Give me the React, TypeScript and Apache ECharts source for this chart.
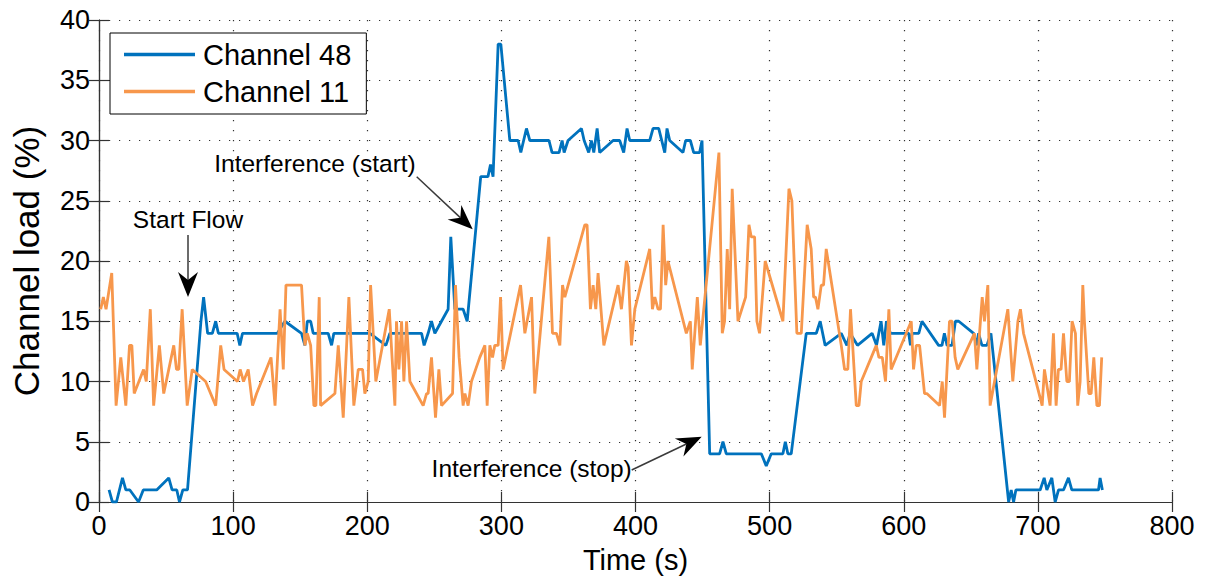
import React, { useEffect, useRef } from "react";
import * as echarts from "echarts";

const FONT = "'Liberation Sans', Arial, Helvetica, sans-serif";

// Channel 48 (blue)
const ch48Time = [7.5, 10, 13, 17.5, 20, 23, 29.5, 33, 43, 52, 54.5, 58, 60, 62.5, 66, 76, 78, 81, 84.5, 87, 89, 103, 105, 107, 133, 138.6, 151, 153.5, 155.3, 157.8, 159.7, 170.9, 173.4, 175.1, 202, 213.9, 216.9, 240.5, 242.4, 245.4, 247.9, 250.4, 260.3, 262.3, 265.3, 271.5, 274.5, 284.6, 290, 291.9, 293.8, 297.6, 299.6, 306.3, 312.5, 314.5, 318.7, 321.2, 335.5, 337.8, 343, 345.3, 346.8, 349.7, 359.7, 361.7, 365.1, 367.1, 368.9, 371.4, 373.3, 383.3, 388.2, 391.2, 393.7, 395.7, 410.6, 413.1, 417.3, 421.8, 423.5, 425.5, 435.4, 437.4, 440.9, 443.4, 447.8, 449.6, 455.3, 462.7, 465.2, 467.7, 493.8, 497.5, 501.2, 509.9, 511.7, 513.6, 516.1, 527.3, 534.8, 537.7, 541.4, 553.4, 557.6, 560, 565.5, 576.4, 579.7, 583.1, 585.1, 587.1, 590, 603.7, 605, 606.2, 611.2, 613.6, 626, 628.5, 630.3, 632.3, 636, 638.5, 641, 652.1, 654.2, 655.8, 658.3, 662, 665, 678.2, 680.1, 681.9, 683.6, 701.7, 704.7, 706.7, 710.4, 712.9, 715.4, 719.1, 722.8, 725.3, 745.2, 746.4, 748.1];
const ch48Load = [1, 0, 0, 2, 1, 1, 0, 1, 1, 2, 1, 1, 0, 1, 1, 15, 17, 14, 14, 15, 14, 14, 13, 14, 14, 15, 14, 13, 15, 15, 14, 14, 13, 14, 14, 13, 14, 14, 13, 14, 15, 14, 16, 22, 16, 16, 15, 27, 27, 28, 27, 38, 38, 30, 30, 29, 31, 30, 30, 29, 29, 30, 29, 30, 31, 30, 29, 30, 29, 31, 29, 30, 30, 29, 31, 30, 30, 31, 31, 29, 31, 30, 29, 30, 30, 29, 29, 30, 4, 4, 5, 4, 4, 3, 4, 4, 5, 4, 4, 14, 14, 15, 13, 14, 13, 14, 13, 14, 13, 15, 13, 15, 14, 14, 13, 14, 14, 15, 13, 13, 14, 13, 13, 15, 15, 14, 13, 14, 13, 13, 14, 0, 1, 0, 1, 1, 2, 1, 2, 0, 1, 1, 2, 1, 1, 2, 1];

// Channel 11 (orange)
const ch11Time = [1.25, 3.25, 5.25, 9.5, 12.75, 16.25, 20, 22.75, 24.5, 26.25, 33.25, 35.25, 38.25, 40.75, 45, 48.25, 55.75, 57.75, 59.5, 62, 65.75, 69.5, 79.5, 87, 90.75, 93.25, 103.25, 105.25, 107.75, 111.25, 114.5, 117.5, 128.25, 131.25, 135, 137.4, 139.4, 151, 153.5, 155.3, 157.8, 160.2, 161.7, 164.2, 165.2, 175.9, 178.4, 182.1, 186.3, 190, 193.3, 196.5, 198.2, 200.7, 202.5, 206.4, 216.4, 220.6, 221.8, 223.6, 225.6, 227.3, 229.3, 231.8, 241.7, 244.2, 245.4, 247.9, 250.9, 253.4, 255.4, 263.6, 265.8, 268.5, 271.5, 272.8, 275.2, 277.7, 283.9, 287.7, 289.4, 291.4, 293.4, 295.1, 297.6, 299.4, 301.3, 314.3, 317.5, 322.5, 324.9, 335.4, 338.1, 341.1, 343.6, 345.6, 347.3, 362.2, 363.9, 366.4, 368.4, 370.4, 372.1, 376.4, 387, 389.5, 393.2, 394.5, 397, 399.5, 410.6, 412.6, 414.4, 416.8, 418.6, 420.6, 422.5, 424.2, 437.9, 440.9, 442.3, 446.1, 448.3, 462.2, 464.7, 466.4, 468.4, 470.2, 472.1, 476.4, 482.1, 484.6, 486.3, 488.8, 490.5, 492.5, 496.7, 509.9, 514.4, 516.6, 520.3, 523.6, 528, 531, 532.8, 534.2, 536, 538.5, 540.2, 542.2, 553.4, 555.9, 558.3, 560.3, 564.6, 566.6, 568.3, 579.5, 581.5, 584, 586.4, 588.9, 590.6, 605.6, 607.3, 609.3, 611.8, 615.5, 617.2, 626.7, 628.7, 630.4, 634.1, 636.1, 638.3, 640.3, 652.7, 654.5, 658.5, 660.2, 662.7, 664.4, 677.6, 681.3, 685.1, 687, 689.3, 703.2, 704.9, 709.1, 711.6, 713.6, 715.3, 717.3, 719.1, 721.6, 723.5, 725.5, 728, 729.7, 731.5, 733.5, 734.7, 738, 739.7, 741.7, 744, 745.9, 747.6];
const ch11Load = [16, 17, 16, 19, 8, 12, 8, 13, 13, 9, 11, 10, 16, 8, 13, 9, 13, 11, 11, 16, 8, 11, 10, 8, 13, 11, 10, 11, 10, 11, 8, 9, 12, 8, 16, 11, 18, 18, 13, 14, 13, 8, 8, 17, 8, 9, 13, 7, 17, 8, 11, 11, 9, 10, 18, 10, 16, 8, 15, 11, 15, 10, 15, 10, 8, 9, 9, 12, 7, 11, 8, 9, 18, 12, 8, 9, 8, 10, 12, 13, 8, 13, 12, 13, 13, 17, 11, 18, 14, 17, 9, 22, 14, 14, 13, 18, 17, 23, 23, 16, 18, 16, 19, 13, 18, 16, 20, 19.5, 13, 16, 21, 16, 17, 16, 16, 23, 18, 20, 14, 15, 11, 17, 13, 29, 14, 15, 21, 16, 26, 15, 17, 23, 22, 22, 15, 14, 20, 15, 26, 25, 14, 14, 23, 21, 17, 17, 16, 18, 18, 21, 13, 11, 11, 16, 8, 8, 10, 13, 12, 12, 10, 16, 11, 15, 11, 13, 13, 9, 9, 8, 10, 7, 15, 15, 12, 11, 14, 11, 17, 15, 18, 8, 16, 10, 15, 16, 14, 8, 11, 8, 14, 8, 11, 11, 14, 10, 10, 15, 14, 8, 10, 18, 15, 9, 9, 12, 8, 8, 12];

const seriesNames = ["Channel 48", "Channel 11"];
const seriesColors = ["#0072BD", "#F7974C"];

const xTicks = { min: 0, max: 800, interval: 100 };
const yTicks = { min: 0, max: 40, interval: 5 };

// annotations: text, text centre, arrow start, arrow tip (pixels)
const annotations = [
  { text: "Start Flow", tx: 188, ty: 219.5, sx: 188, sy: 235, ex: 188, ey: 297 },
  { text: "Interference (start)", tx: 315, ty: 163, sx: 416.7, sy: 176.7, ex: 472.7, ey: 229.3 },
  { text: "Interference (stop)", tx: 531.7, ty: 468, sx: 631.7, sy: 470, ex: 701.7, ey: 436.7 },
];

function zip(t: number[], v: number[]) {
  return t.map((x, i) => [x, v[i]]);
}

function arrow(a: any) {
  const dx = a.ex - a.sx, dy = a.ey - a.sy;
  const len = Math.sqrt(dx * dx + dy * dy);
  const ux = dx / len, uy = dy / len;
  const nx = -uy, ny = ux;
  const L = 25, W = 10, N = 8;
  const bx = a.ex - ux * L, by = a.ey - uy * L;
  const mx = a.ex - ux * (L - N), my = a.ey - uy * (L - N);
  return [
    {
      type: "line",
      shape: { x1: a.sx, y1: a.sy, x2: mx, y2: my },
      style: { stroke: "#3a3a3a", lineWidth: 1.5 },
      z: 100,
    },
    {
      type: "polygon",
      shape: {
        points: [
          [a.ex, a.ey],
          [bx + nx * W, by + ny * W],
          [mx, my],
          [bx - nx * W, by - ny * W],
        ],
      },
      style: { fill: "#000" },
      z: 100,
    },
    {
      type: "text",
      x: a.tx,
      y: a.ty,
      style: {
        text: a.text,
        fill: "#000",
        font: `24.5px ${FONT}`,
        textAlign: "center",
        textVerticalAlign: "middle",
      },
      z: 100,
    },
  ];
}

export default function App() {
  const ref = useRef<HTMLDivElement>(null);
  useEffect(() => {
    if (!ref.current) return;
    const chart = echarts.init(ref.current, undefined, { renderer: "svg" });
    const axisLine = { show: true, lineStyle: { color: "#333", width: 1.2 } };
    const tick = { show: true, inside: true, length: 10, lineStyle: { color: "#333", width: 1.2 } };
    const split = { show: true, lineStyle: { color: "#333", width: 1.2, type: [1.2, 8.8] } };
    const labelStyle = { color: "#000", fontSize: 27, fontFamily: FONT };
    const option: any = {
      animation: false,
      backgroundColor: "#fff",
      textStyle: { fontFamily: FONT },
      grid: { left: 99, right: 33, top: 20, bottom: 74, containLabel: false },
      legend: {
        orient: "vertical",
        left: 110,
        top: 33,
        padding: [7, 15, 8, 14],
        itemGap: 8,
        itemWidth: 71,
        itemHeight: 3.5,
        borderColor: "#000",
        borderWidth: 1,
        borderRadius: 0,
        backgroundColor: "#fff",
        textStyle: { fontSize: 29, lineHeight: 29, color: "#000", fontFamily: FONT, padding: [0, 0, 0, 3] },
        data: seriesNames.map((n) => ({ name: n, icon: "rect" })),
        z: 200,
      },
      xAxis: [
        {
          type: "value",
          ...xTicks,
          name: "Time (s)",
          nameLocation: "middle",
          nameGap: 43,
          nameTextStyle: { fontSize: 29, color: "#000", fontFamily: FONT },
          axisLine,
          axisTick: tick,
          axisLabel: { ...labelStyle, margin: 10 },
          splitLine: split,
        },
        {
          type: "value",
          position: "top",
          ...xTicks,
          axisLine,
          axisTick: tick,
          axisLabel: { show: false },
          splitLine: { show: false },
        },
      ],
      yAxis: [
        {
          type: "value",
          ...yTicks,
          name: "Channel load (%)",
          nameLocation: "middle",
          nameGap: 55,
          nameTextStyle: { fontSize: 35, color: "#000", fontFamily: FONT },
          axisLine,
          axisTick: tick,
          axisLabel: { ...labelStyle, margin: 9 },
          splitLine: split,
        },
        {
          type: "value",
          position: "right",
          ...yTicks,
          axisLine,
          axisTick: tick,
          axisLabel: { show: false },
          splitLine: { show: false },
        },
      ],
      series: [
        {
          name: seriesNames[0],
          type: "line",
          data: zip(ch48Time, ch48Load),
          symbol: "none",
          showSymbol: false,
          color: seriesColors[0],
          lineStyle: { color: seriesColors[0], width: 2.8 },
          z: 3,
        },
        {
          name: seriesNames[1],
          type: "line",
          data: zip(ch11Time, ch11Load),
          symbol: "none",
          showSymbol: false,
          color: seriesColors[1],
          lineStyle: { color: seriesColors[1], width: 2.8 },
          z: 4,
        },
      ],
      graphic: annotations.flatMap(arrow),
    };
    chart.setOption(option);
    return () => chart.dispose();
  }, []);
  return (
    <div
      ref={ref}
      style={{ position: "fixed", left: 0, top: 0, width: 1205, height: 579, background: "#fff" }}
    />
  );
}
